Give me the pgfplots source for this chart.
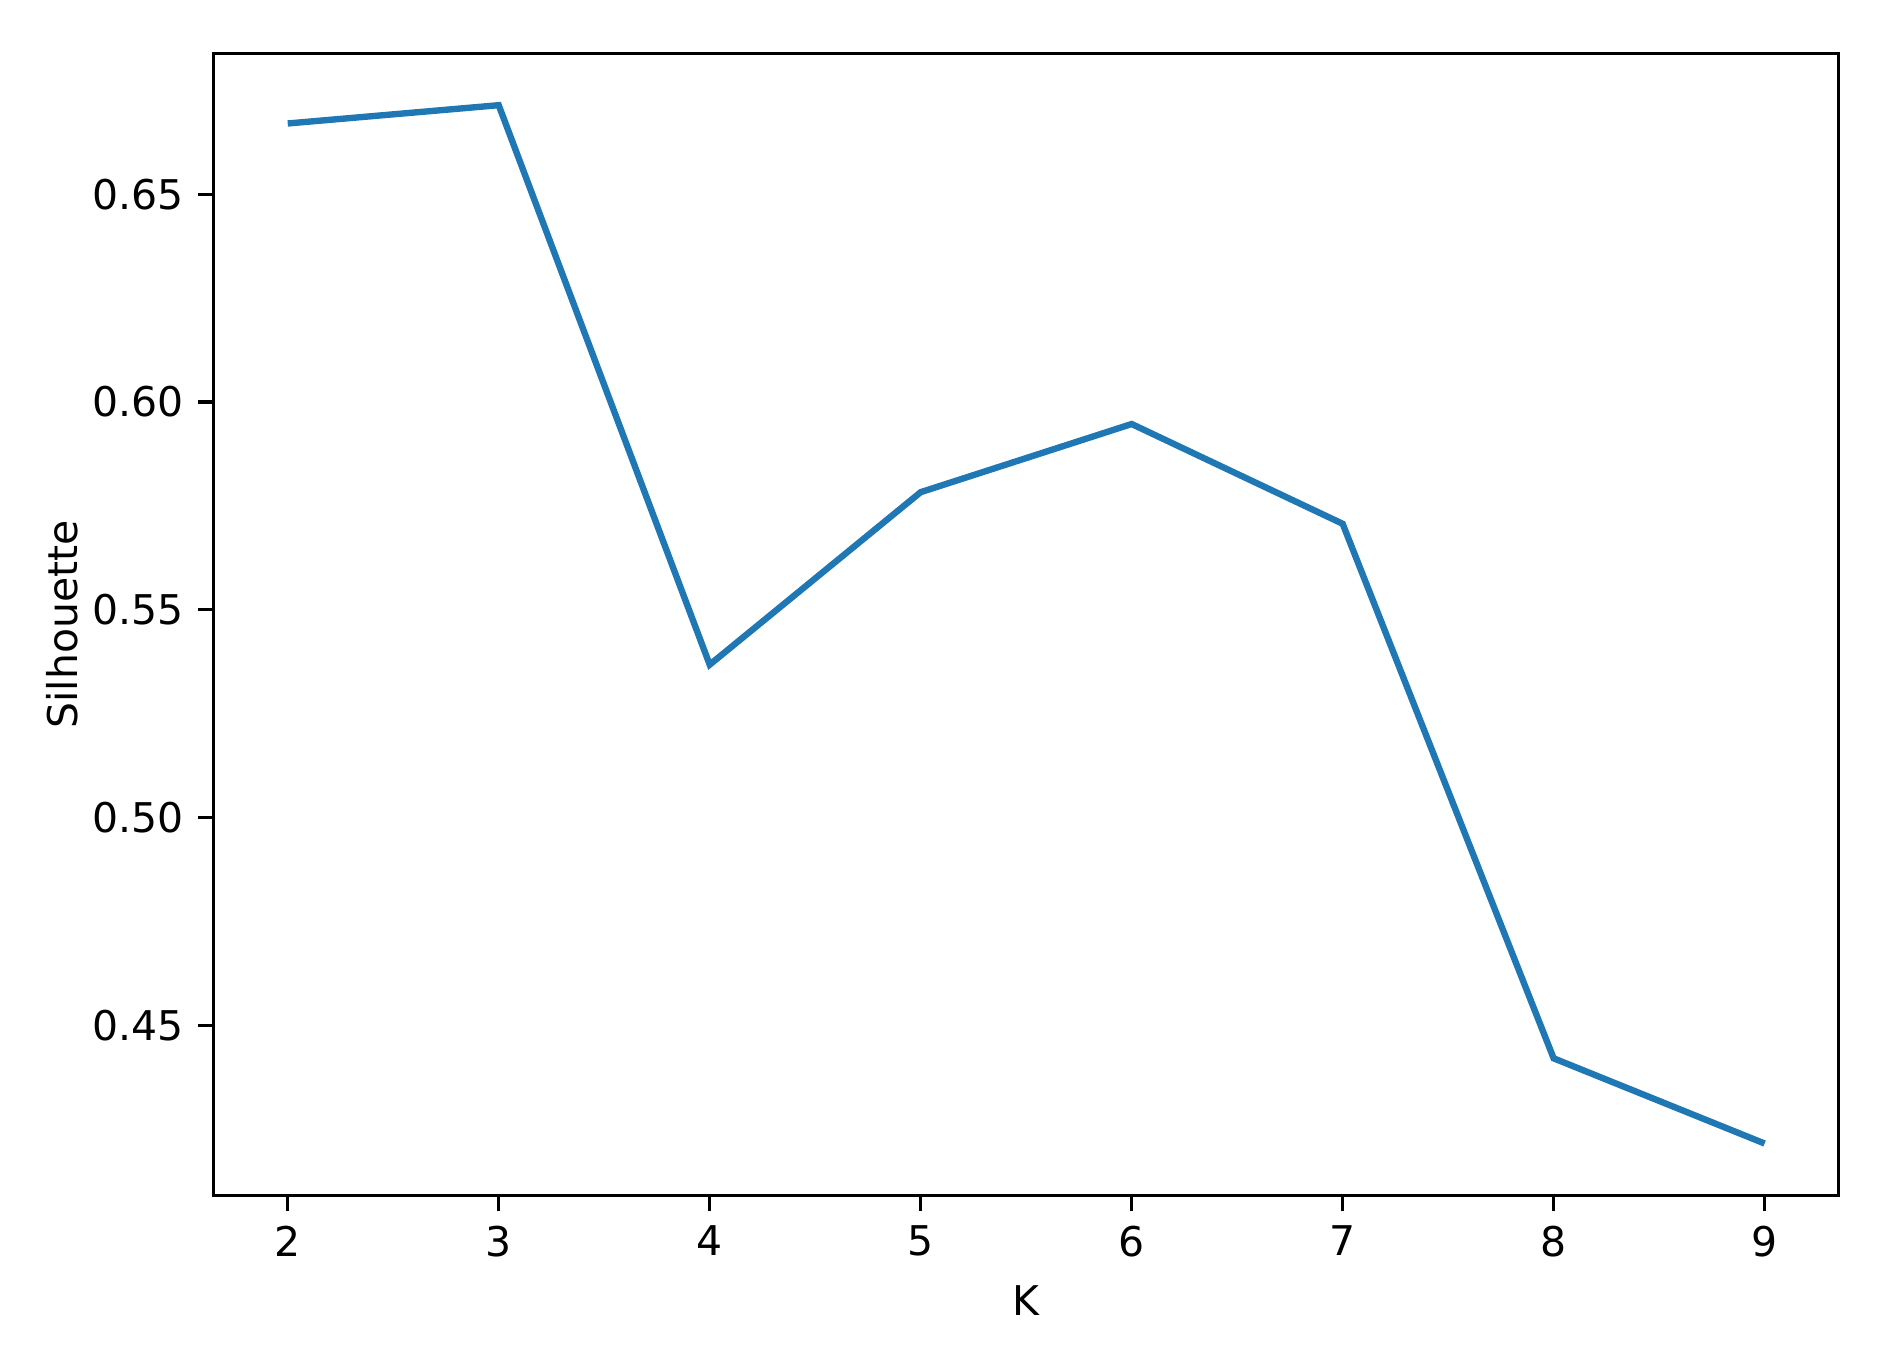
\documentclass[border=0pt]{standalone}
\usepackage{fontspec}
\setmainfont{DejaVu Sans}
\usepackage{pgfplots}
\pgfplotsset{compat=1.18}
\definecolor{mplblue}{HTML}{1F77B4}

\begin{document}
\fontsize{9}{11}\selectfont
\begin{tikzpicture}
\begin{axis}[
    name=ax,
    scale only axis,
    width=357pt,
    height=251pt,
    xmin=1.65, xmax=9.35,
    ymin=0.4091, ymax=0.6839,
    xtick={2,3,4,5,6,7,8,9},
    ytick={0.45,0.50,0.55,0.60,0.65},
    yticklabel style={/pgf/number format/.cd, fixed, fixed zerofill, precision=2},
    /pgf/number format/assume math mode=true,
    tick align=outside,
    xtick pos=bottom,
    ytick pos=left,
    major tick length=3.5pt,
    tick style={black, line width=0.7pt},
    axis line style={line width=0.7pt},
    xlabel={K},
    ylabel={Silhouette},
    xlabel style={yshift=0pt},
    ylabel style={yshift=-3pt},
    ticklabel style={font=\fontsize{9}{11}\selectfont},
    label style={font=\fontsize{9}{11}\selectfont},
]
\addplot[mplblue, line width=1.4pt] coordinates {
    (2,0.6670)
    (3,0.6714)
    (4,0.5368)
    (5,0.5783)
    (6,0.5947)
    (7,0.5707)
    (8,0.4421)
    (9,0.4216)
};
\end{axis}
\path ([shift={(-47pt,-37pt)}]ax.south west) rectangle ([shift={(14.4pt,11.7pt)}]ax.north east);
\end{tikzpicture}
\end{document}
